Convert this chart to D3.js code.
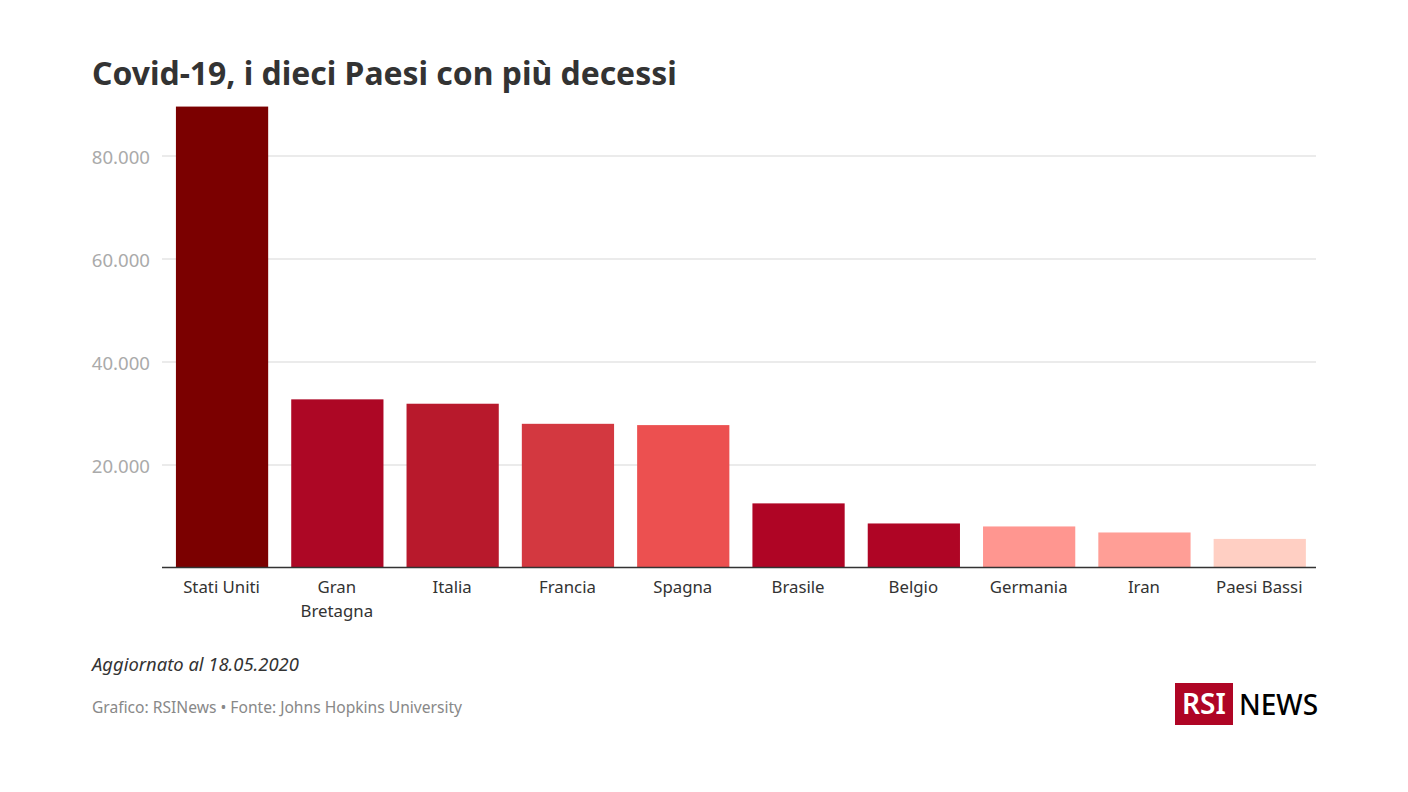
<!DOCTYPE html>
<html>
<head>
<meta charset="utf-8">
<script src="https://cdn.jsdelivr.net/npm/d3@7"></script>
<style>
	html, body { margin: 0; padding: 0; background: #fff; }
	text { font-family: "Noto Sans", sans-serif; }
	.domain { display: none; }
</style>
</head>
<body>
<svg id="chart" width="1408" height="792"></svg>
<script>
// data
var countries = ['Stati Uniti', 'Gran Bretagna', 'Italia', 'Francia', 'Spagna', 'Brasile', 'Belgio', 'Germania', 'Iran', 'Paesi Bassi'];
var deaths = [89500, 32650, 31800, 27900, 27650, 12450, 8550, 7970, 6800, 5550];
var barColors = ['#7b0000', '#ad0725', '#b8192c', '#d33840', '#ec5050', '#af0525', '#af0525', '#ff9690', '#ff9e96', '#ffcfc3'];
var yTicks = [20000, 40000, 60000, 80000];

var svg = d3.select('#chart');
var itLocale = d3.formatLocale({ decimal: ',', thousands: '.', grouping: [3], currency: ['€', ''] });

var x = d3.scaleBand().domain(countries).range([164.4, 1317.4]).paddingInner(0.2).paddingOuter(0.1);
var y = d3.scaleLinear().domain([0, 80000]).range([567.5, 155.5]);

// grid + y labels
var yAxis = svg.append('g')
	.attr('transform', 'translate(162,0)')
	.call(d3.axisLeft(y).tickValues(yTicks).tickFormat(itLocale.format(',d')).tickSize(-1154).tickPadding(12));
yAxis.selectAll('.tick line').attr('stroke', '#e4e4e4').attr('stroke-width', 1.6);
yAxis.selectAll('.tick text')
	.attr('x', -12)
	.attr('dy', '0.42em')
	.style('font-size', '18.6px')
	.attr('fill', '#aaaaaa');

// bars
svg.append('g')
	.selectAll('rect')
	.data(countries)
	.enter()
	.append('rect')
	.attr('x', function (d) { return x(d); })
	.attr('width', x.bandwidth())
	.attr('y', function (d, i) { return y(deaths[i]); })
	.attr('height', function (d, i) { return y(0) - y(deaths[i]); })
	.attr('fill', function (d, i) { return barColors[i]; });

// x axis, the long name wraps on two lines
var xAxis = svg.append('g')
	.attr('transform', 'translate(0,' + y(0) + ')')
	.call(d3.axisBottom(x).tickSize(0).tickPadding(0).tickFormat(''));
xAxis.selectAll('.tick text').remove();
xAxis.selectAll('.tick').append('text')
	.attr('text-anchor', 'middle')
	.attr('fill', '#333333')
	.style('font-size', '16.8px')
	.each(function (d) {
		var lines = d === 'Gran Bretagna' ? ['Gran', 'Bretagna'] : [d];
		d3.select(this).selectAll('tspan')
			.data(lines)
			.enter()
			.append('tspan')
			.attr('x', -0.5)
			.attr('y', function (l, i) { return 25.5 + i * 24; })
			.text(function (l) { return l; });
	});
svg.append('line')
	.attr('x1', 162).attr('x2', 1316)
	.attr('y1', y(0)).attr('y2', y(0))
	.attr('stroke', '#333333').attr('stroke-width', 1.5);

// title and notes
svg.append('text').attr('x', 92).attr('y', 85)
	.attr('fill', '#333333')
	.style('font-size', '31.9px').style('font-weight', 700)
	.text('Covid-19, i dieci Paesi con più decessi');
svg.append('text').attr('x', 92).attr('y', 670.5)
	.attr('fill', '#333333')
	.style('font-size', '18.4px').style('font-style', 'italic')
	.text('Aggiornato al 18.05.2020');
svg.append('text').attr('x', 92).attr('y', 713)
	.attr('fill', '#888888')
	.style('font-size', '15.6px')
	.text('Grafico: RSINews • Fonte: Johns Hopkins University');

// logo
svg.append('rect').attr('x', 1175).attr('y', 683).attr('width', 58).attr('height', 42).attr('fill', '#af0525');
svg.append('text').attr('x', 1204).attr('y', 714).attr('text-anchor', 'middle')
	.attr('fill', '#ffffff')
	.style('font-size', '28px').style('font-weight', 600)
	.text('RSI');
svg.append('text').attr('x', 1239).attr('y', 714.5)
	.attr('fill', '#000000')
	.style('font-size', '28px').style('font-weight', 500)
	.text('NEWS');
</script>
</body>
</html>
